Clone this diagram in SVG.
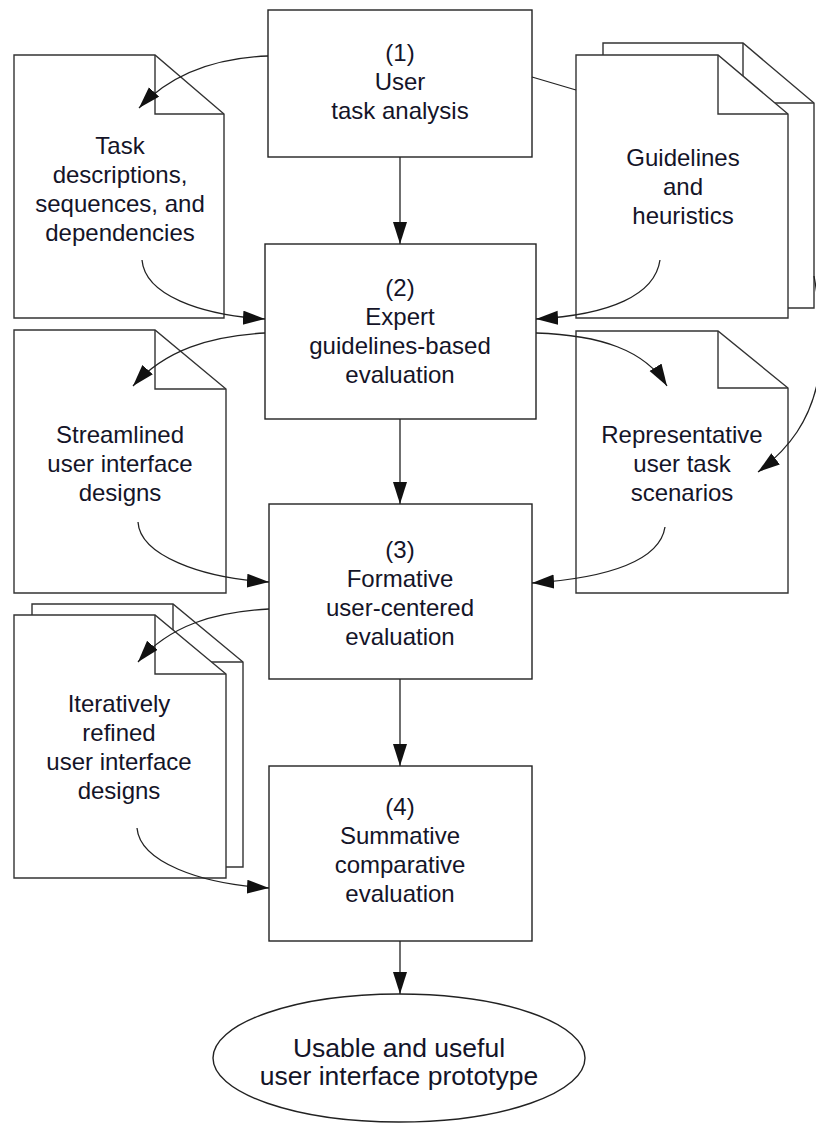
<svg xmlns="http://www.w3.org/2000/svg" width="816" height="1128" viewBox="0 0 816 1128">
<defs>
<marker id="ah" markerUnits="userSpaceOnUse" markerWidth="24" markerHeight="16" refX="22" refY="7" orient="auto">
<path d="M0,0 L22,7 L0,14 z" fill="#111"/>
</marker>
<style>
.box{fill:#fff;stroke:#222;stroke-width:1.4}
.doc{fill:#fff;stroke:#333;stroke-width:1.4;stroke-linejoin:miter}
.fold{fill:none;stroke:#333;stroke-width:1.4}
.t{font-family:"Liberation Sans","Open Sans",sans-serif;font-size:24px;fill:#141428;text-anchor:middle}
.c{fill:none;stroke:#222;stroke-width:1.3;marker-end:url(#ah)}
</style>
</defs>
<rect width="816" height="1128" fill="#fff"/>

<g id="doc-task">
<polygon class="doc" points="14,55 155,55 224,114 224,318 14,318"/>
<polyline class="fold" points="155,55 155,114 224,114"/>
<text class="t" x="120" y="154">Task</text>
<text class="t" x="120" y="183">descriptions,</text>
<text class="t" x="120" y="212">sequences, and</text>
<text class="t" x="120" y="241">dependencies</text>
</g>

<g id="doc-guidelines">
<polygon class="doc" points="603,43 743,43 814,103 814,308 603,308"/>
<polyline class="fold" points="743,43 743,103 814,103"/>
<polygon class="doc" points="576,55 718,55 788,114 788,318 576,318"/>
<polyline class="fold" points="718,55 718,114 788,114"/>
<text class="t" x="683" y="166">Guidelines</text>
<text class="t" x="683" y="195">and</text>
<text class="t" x="683" y="224">heuristics</text>
</g>

<g id="doc-streamlined">
<polygon class="doc" points="14,330 155,330 226,389 226,593 14,593"/>
<polyline class="fold" points="155,330 155,389 226,389"/>
<text class="t" x="120" y="443">Streamlined</text>
<text class="t" x="120" y="472">user interface</text>
<text class="t" x="120" y="501">designs</text>
</g>

<g id="doc-scenarios">
<polygon class="doc" points="576,331 718,331 788,388 788,593 576,593"/>
<polyline class="fold" points="718,331 718,388 788,388"/>
<text class="t" x="682" y="443">Representative</text>
<text class="t" x="682" y="472">user task</text>
<text class="t" x="682" y="501">scenarios</text>
</g>

<g id="doc-refined">
<polygon class="doc" points="32,604 173,604 243,662 243,867 32,867"/>
<polyline class="fold" points="173,604 173,662 243,662"/>
<polygon class="doc" points="14,615 155,615 226,674 226,878 14,878"/>
<polyline class="fold" points="155,615 155,674 226,674"/>
<text class="t" x="119" y="712">Iteratively</text>
<text class="t" x="119" y="741">refined</text>
<text class="t" x="119" y="770">user interface</text>
<text class="t" x="119" y="799">designs</text>
</g>

<g id="step1">
<rect class="box" x="268" y="10" width="264" height="147"/>
<text class="t" x="400" y="61">(1)</text>
<text class="t" x="400" y="90">User</text>
<text class="t" x="400" y="119">task analysis</text>
</g>

<g id="step2">
<rect class="box" x="265" y="244" width="271" height="175"/>
<text class="t" x="400" y="296">(2)</text>
<text class="t" x="400" y="325">Expert</text>
<text class="t" x="400" y="354">guidelines-based</text>
<text class="t" x="400" y="383">evaluation</text>
</g>

<g id="step3">
<rect class="box" x="269" y="504" width="263" height="175"/>
<text class="t" x="400" y="558">(3)</text>
<text class="t" x="400" y="587">Formative</text>
<text class="t" x="400" y="616">user-centered</text>
<text class="t" x="400" y="645">evaluation</text>
</g>

<g id="step4">
<rect class="box" x="269" y="766" width="263" height="175"/>
<text class="t" x="400" y="815">(4)</text>
<text class="t" x="400" y="844">Summative</text>
<text class="t" x="400" y="873">comparative</text>
<text class="t" x="400" y="902">evaluation</text>
</g>

<g id="prototype">
<ellipse class="box" cx="399" cy="1058" rx="186" ry="64"/>
<text class="t" x="399" y="1057" style="font-size:26.5px">Usable and useful</text>
<text class="t" x="399" y="1085" style="font-size:26.5px">user interface prototype</text>
</g>

<g id="connectors">
<path class="c" d="M400,157 L400,244"/>
<path class="c" d="M400,419 L400,504"/>
<path class="c" d="M400,679 L400,766"/>
<path class="c" d="M400,941 L400,994"/>
<path class="c" d="M268,56 C215,58 170,75 139,108"/>
<path class="c" d="M142,260 C145,295 200,315 265,319"/>
<path class="c" d="M532,77 L576,90 M814,276 C822,320 822,350 818,380 C810,420 790,448 758,472"/>
<path class="c" d="M660,260 C655,295 610,315 536,319"/>
<path class="c" d="M265,333 C210,336 165,350 133,386"/>
<path class="c" d="M138,522 C140,555 200,578 269,582"/>
<path class="c" d="M536,333 C600,335 645,350 667,386"/>
<path class="c" d="M665,527 C660,560 610,578 532,583"/>
<path class="c" d="M269,609 C215,612 170,625 138,662"/>
<path class="c" d="M137,828 C140,862 200,884 269,888"/>
</g>
</svg>
